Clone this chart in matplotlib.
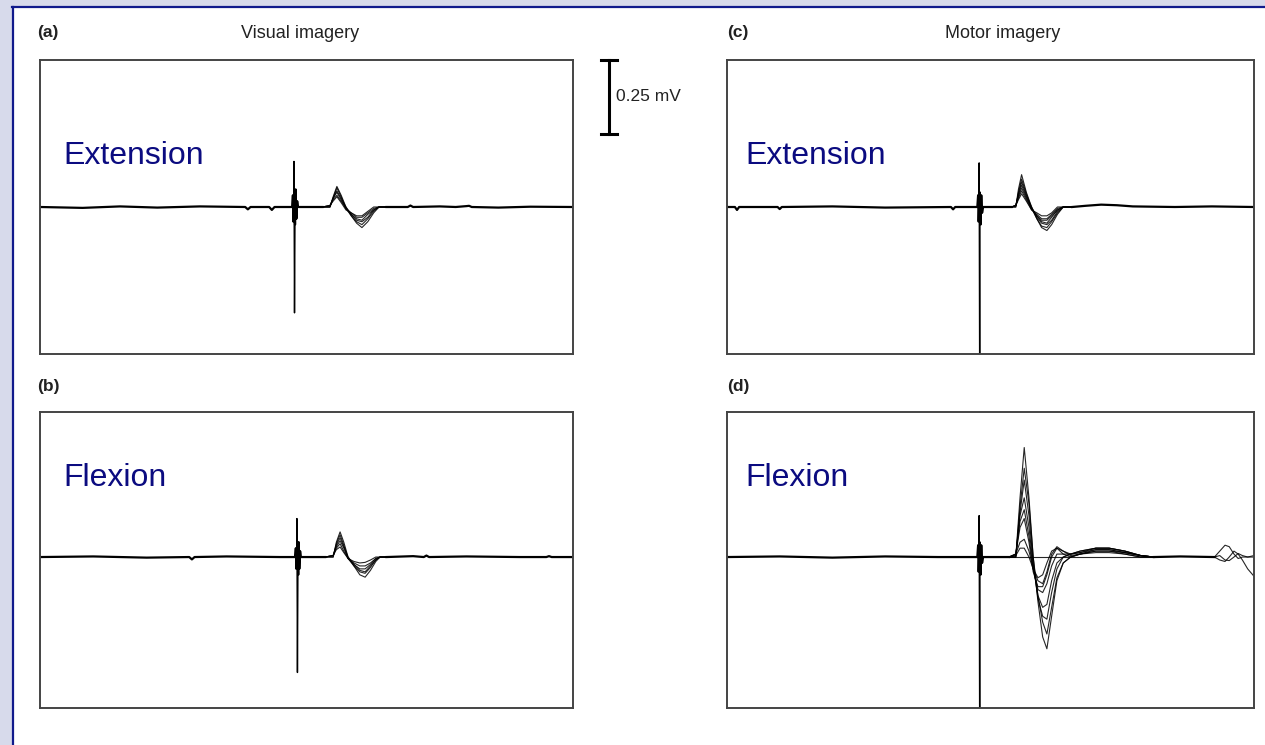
import matplotlib
matplotlib.use('Agg')
import matplotlib.pyplot as plt
from matplotlib.patches import Rectangle
from matplotlib.lines import Line2D

plt.rcParams['font.family'] = ['Liberation Sans', 'DejaVu Sans']

W, H = 1265, 745

# sweep time in ms (0..100 across each panel), amplitude in mV
# (a) visual imagery, extension
a_pre_t = [0, 8, 15, 22, 30, 38.5, 39, 39.5, 43.0, 43.5, 44.0, 47.3, 47.45, 47.55,
           47.7, 47.85, 47.95, 48.1, 48.25, 48.4, 53.0]
a_pre_v = [0, -0.003, 0.002, -0.002, 0.002, 0, -0.008, 0, 0, -0.01, 0, 0, 0.04, -0.05,
           0.05, -0.06, 0.06, -0.04, 0.02, 0, 0]
a_spike_t = [47.6, 47.65, 47.75, 47.85]
a_spike_v = [0, 0.155, -0.36, 0]
a_resp_t = [53.0, 54.4, 55.0, 55.7, 56.5, 57.4, 58.4, 59.4, 60.4, 61.5, 62.6, 63.6, 65.0]
a_sweeps = [
    [0, 0, 0.035, 0.07, 0.04, 0.0, -0.03, -0.055, -0.07, -0.05, -0.02, 0.0, 0],
    [0, 0, 0.03, 0.065, 0.035, -0.005, -0.03, -0.05, -0.06, -0.04, -0.015, 0.0, 0],
    [0, 0, 0.03, 0.055, 0.03, 0.0, -0.025, -0.045, -0.05, -0.035, -0.01, 0.0, 0],
    [0, 0.005, 0.03, 0.05, 0.025, -0.005, -0.025, -0.04, -0.045, -0.025, -0.01, 0.0, 0],
    [0, 0.005, 0.025, 0.04, 0.02, -0.005, -0.02, -0.035, -0.035, -0.02, -0.005, 0.0, 0],
    [0, 0.005, 0.02, 0.035, 0.015, -0.01, -0.02, -0.03, -0.03, -0.015, 0.0, 0.0, 0],
]
a_post_t = [65.0, 69.0, 69.5, 70, 75, 78, 80, 80.5, 81, 86, 92, 100]
a_post_v = [0, 0, 0.005, 0, 0.002, 0, 0.003, 0.004, 0, -0.002, 0.001, 0]

# (b) visual imagery, flexion
b_pre_t = [0, 10, 20, 28, 28.5, 29, 35, 45, 47.85, 48.0, 48.1, 48.3, 48.45, 48.55,
           48.65, 48.8, 48.95, 53.5]
b_pre_v = [0, 0.002, -0.002, 0, -0.008, 0, 0.002, 0, 0, 0.03, -0.04, 0.05, -0.06,
           0.05, -0.04, 0.02, 0, 0]
b_spike_t = [48.15, 48.2, 48.3, 48.4]
b_spike_v = [0, 0.13, -0.39, 0]
b_resp_t = [53.5, 55.0, 55.6, 56.3, 57.0, 57.8, 58.9, 60.0, 61.0, 62.0, 63.0, 63.8, 65.0]
b_sweeps = [
    [0, 0, 0.05, 0.085, 0.05, 0.0, -0.03, -0.06, -0.068, -0.045, -0.015, 0.0, 0],
    [0, 0, 0.045, 0.075, 0.04, -0.005, -0.03, -0.05, -0.055, -0.035, -0.01, 0.0, 0],
    [0, 0.005, 0.04, 0.065, 0.035, 0.0, -0.025, -0.045, -0.05, -0.03, -0.01, 0.0, 0],
    [0, 0.005, 0.035, 0.055, 0.03, -0.005, -0.025, -0.04, -0.04, -0.025, -0.005, 0.0, 0],
    [0, 0.005, 0.03, 0.045, 0.02, -0.005, -0.02, -0.03, -0.03, -0.02, -0.005, 0.0, 0],
    [0, 0.005, 0.025, 0.034, 0.015, -0.005, -0.015, -0.02, -0.018, -0.01, 0.0, 0.0, 0],
]
b_post_t = [65.0, 70, 72, 72.5, 73, 80, 90, 95, 95.5, 96, 100]
b_post_v = [0, 0.003, 0, 0.005, 0, 0.002, 0, 0, 0.003, 0, 0]

# (c) motor imagery, extension
c_pre_t = [0, 1.5, 1.9, 2.3, 9.6, 10.0, 10.4, 20, 30, 42.5, 42.9, 43.3, 47.5, 47.65,
           47.75, 47.95, 48.1, 48.25, 48.4, 48.6, 54.0]
c_pre_v = [0, 0, -0.01, 0, 0, -0.007, 0, 0.002, -0.002, 0, -0.008, 0, 0, 0.04,
           -0.05, 0.05, -0.06, 0.04, -0.02, 0, 0]
c_spike_t = [47.8, 47.85, 47.95, 48.0]
c_spike_v = [0, 0.15, -0.6, 0]
c_resp_t = [54.0, 54.8, 55.3, 55.9, 56.8, 57.8, 58.8, 59.7, 60.7, 61.6, 62.7, 63.8, 65.5]
c_sweeps = [
    [0, 0, 0.06, 0.11, 0.05, 0.0, -0.04, -0.07, -0.08, -0.06, -0.025, 0.0, 0],
    [0, 0, 0.05, 0.095, 0.045, -0.005, -0.04, -0.065, -0.07, -0.05, -0.02, 0.0, 0],
    [0, 0.005, 0.045, 0.085, 0.04, 0.0, -0.035, -0.055, -0.06, -0.045, -0.015, 0.0, 0],
    [0, 0.005, 0.04, 0.075, 0.035, -0.005, -0.03, -0.05, -0.055, -0.035, -0.01, 0.0, 0],
    [0, 0.005, 0.035, 0.065, 0.03, -0.005, -0.03, -0.045, -0.045, -0.03, -0.01, 0.0, 0],
    [0, 0.005, 0.03, 0.055, 0.025, -0.01, -0.025, -0.04, -0.04, -0.025, -0.005, 0.0, 0],
    [0, 0.005, 0.025, 0.045, 0.02, -0.01, -0.02, -0.03, -0.03, -0.02, 0.0, 0.0, 0],
]
c_post_t = [65.5, 68, 71, 74, 77, 85, 92, 100]
c_post_v = [0, 0.004, 0.008, 0.006, 0.002, 0, 0.002, 0]

# (d) motor imagery, flexion
d_pre_t = [0, 10, 20, 30, 40, 47.5, 47.65, 47.75, 47.95, 48.1, 48.25, 48.4, 48.6, 53.5]
d_pre_v = [0, 0.002, -0.002, 0.002, 0, 0, 0.04, -0.05, 0.05, -0.06, 0.04, -0.02, 0, 0]
d_spike_t = [47.8, 47.85, 47.95, 48.0]
d_spike_v = [0, 0.14, -0.6, 0]
d_resp_t = [53.5, 54.8, 55.6, 56.4, 57.3, 58.1, 59.0, 59.9, 60.7, 61.6, 62.6, 63.8,
            65.2, 67.0, 70.0, 72.5, 75.5, 78.5, 81.0]
d_sweeps = [
    [0, 0, 0.2, 0.37, 0.2, 0.0, -0.15, -0.27, -0.31, -0.2, -0.08, -0.02, 0.0, 0.01, 0.02, 0.02, 0.015, 0.005, 0],
    [0, 0, 0.17, 0.30, 0.18, 0.0, -0.13, -0.22, -0.26, -0.17, -0.07, -0.02, 0.0, 0.01, 0.025, 0.025, 0.015, 0.005, 0],
    [0, 0, 0.15, 0.26, 0.14, -0.02, -0.14, -0.2, -0.21, -0.12, -0.04, 0.0, 0.01, 0.015, 0.03, 0.03, 0.02, 0.005, 0],
    [0, 0.005, 0.14, 0.20, 0.10, -0.03, -0.13, -0.17, -0.16, -0.08, -0.02, 0.0, 0.01, 0.02, 0.03, 0.03, 0.02, 0.005, 0],
    [0, 0.01, 0.12, 0.16, 0.07, -0.04, -0.11, -0.12, -0.09, -0.03, 0.01, 0.01, 0.01, 0.02, 0.03, 0.03, 0.02, 0.005, 0],
    [0, 0.01, 0.10, 0.13, 0.05, -0.05, -0.10, -0.10, -0.06, 0.0, 0.03, 0.02, 0.01, 0.015, 0.025, 0.025, 0.015, 0.005, 0],
    [0, 0.01, 0.05, 0.06, 0.02, -0.04, -0.08, -0.09, -0.05, 0.01, 0.035, 0.02, 0.005, 0.01, 0.02, 0.02, 0.01, 0.0, 0],
    [0, 0.005, 0.03, 0.03, 0.0, -0.04, -0.07, -0.06, -0.02, 0.02, 0.03, 0.01, 0.0, 0.01, 0.015, 0.015, 0.01, 0.0, 0],
    [0, 0, 0, 0, 0, 0, 0, 0, 0, 0, 0, 0, 0, 0, 0, 0, 0, 0, 0],
]
d_post_t = [81.0, 86, 92.5]
d_post_v = [0, 0.002, 0]
d_tail_t = [92.5, 93.5, 94.5, 95.3, 96.2, 97.0, 97.8, 98.8, 100]
d_tails = [
    [0, 0.02, 0.04, 0.035, 0.01, -0.005, 0.0, 0.0, 0.0],
    [0, -0.01, -0.015, 0.0, 0.02, 0.01, -0.01, -0.04, -0.065],
    [0, 0.005, -0.01, -0.012, 0.0, 0.012, 0.005, 0.0, 0.005],
]

scale_mv = 0.25


def fig_xy(x, y):
    return x / W, 1 - y / H


def add_panel(fig, box, pre, spike, resp, post, ylim, tails=None):
    x0, y0, x1, y1 = box
    ax = fig.add_axes([x0 / W, 1 - y1 / H, (x1 - x0) / W, (y1 - y0) / H])
    ax.plot(pre[0], pre[1], color='black', lw=1.6)
    ax.plot(spike[0], spike[1], color='black', lw=1.0)
    for s in resp[1]:
        ax.plot(resp[0], s, color='black', lw=0.8, alpha=0.85)
    ax.plot(post[0], post[1], color='black', lw=1.6)
    if tails is not None:
        for s in tails[1]:
            ax.plot(tails[0], s, color='black', lw=0.8, alpha=0.85)
    ax.set_xlim(0, 100)
    ax.set_ylim(*ylim)
    ax.set_xticks([])
    ax.set_yticks([])
    for sp in ax.spines.values():
        sp.set_color('#444444')
        sp.set_linewidth(1.4)
    return ax


fig = plt.figure(figsize=(W / 100, H / 100), dpi=100)
fig.patch.set_facecolor('white')

# slide frame
lav = '#d7daeb'
fig.patches.append(Rectangle((0, 1 - 6 / H), 1, 6 / H, transform=fig.transFigure,
                             color=lav, zorder=0))
fig.patches.append(Rectangle((0, 0), 12 / W, 1, transform=fig.transFigure,
                             color=lav, zorder=0))
fig.lines.append(Line2D([12 / W, 1], [1 - 6.5 / H] * 2, transform=fig.transFigure,
                        color='#101a8c', lw=1.6))
fig.lines.append(Line2D([12.5 / W] * 2, [0, 1 - 6.5 / H], transform=fig.transFigure,
                        color='#101a8c', lw=1.6))

ax_a = add_panel(fig, (40, 60, 573, 354), (a_pre_t, a_pre_v), (a_spike_t, a_spike_v),
                 (a_resp_t, a_sweeps), (a_post_t, a_post_v), (-0.5, 0.5))
ax_b = add_panel(fig, (40, 412, 573, 708), (b_pre_t, b_pre_v), (b_spike_t, b_spike_v),
                 (b_resp_t, b_sweeps), (b_post_t, b_post_v), (-0.51, 0.49))
ax_c = add_panel(fig, (727, 60, 1254, 354), (c_pre_t, c_pre_v), (c_spike_t, c_spike_v),
                 (c_resp_t, c_sweeps), (c_post_t, c_post_v), (-0.5, 0.5))
ax_d = add_panel(fig, (727, 412, 1254, 708), (d_pre_t, d_pre_v), (d_spike_t, d_spike_v),
                 (d_resp_t, d_sweeps), (d_post_t, d_post_v), (-0.51, 0.49),
                 tails=(d_tail_t, d_tails))

# scale bar drawn in panel (a) data units
sx = 106.8
ax_a.plot([sx, sx], [0.5 - scale_mv, 0.5], color='black', lw=2.2, clip_on=False)
for yy in (0.5 - scale_mv, 0.5):
    ax_a.plot([sx - 1.5, sx + 1.5], [yy, yy], color='black', lw=2.2, clip_on=False)
ax_a.text(sx + 1.3, 0.5 - scale_mv / 2, '0.25 mV', ha='left', va='center',
          fontsize=12.5, color='#222222', clip_on=False)

# panel letters and titles
for lbl, (px, py) in [('(a)', (37, 33)), ('(b)', (37, 387)), ('(c)', (727, 33)),
                      ('(d)', (727, 387))]:
    fig.text(*fig_xy(px, py), lbl, ha='left', va='center', fontsize=12.5,
             fontweight='bold', color='#222222')
fig.text(*fig_xy(300, 34), 'Visual imagery', ha='center', va='center', fontsize=13,
         color='#222222')
fig.text(*fig_xy(1003, 34), 'Motor imagery', ha='center', va='center', fontsize=13,
         color='#222222')

navy = '#0b0b80'
for ax, word in [(ax_a, 'Extension'), (ax_b, 'Flexion'), (ax_c, 'Extension'),
                 (ax_d, 'Flexion')]:
    bx = 0.043 if ax in (ax_a, ax_b) else 0.034
    by = 0.674 if word == 'Extension' else 0.777
    ax.text(bx, by, word, transform=ax.transAxes, ha='left', va='center',
            fontsize=23, color=navy)

fig.savefig('out.png', dpi=100, facecolor='white')
